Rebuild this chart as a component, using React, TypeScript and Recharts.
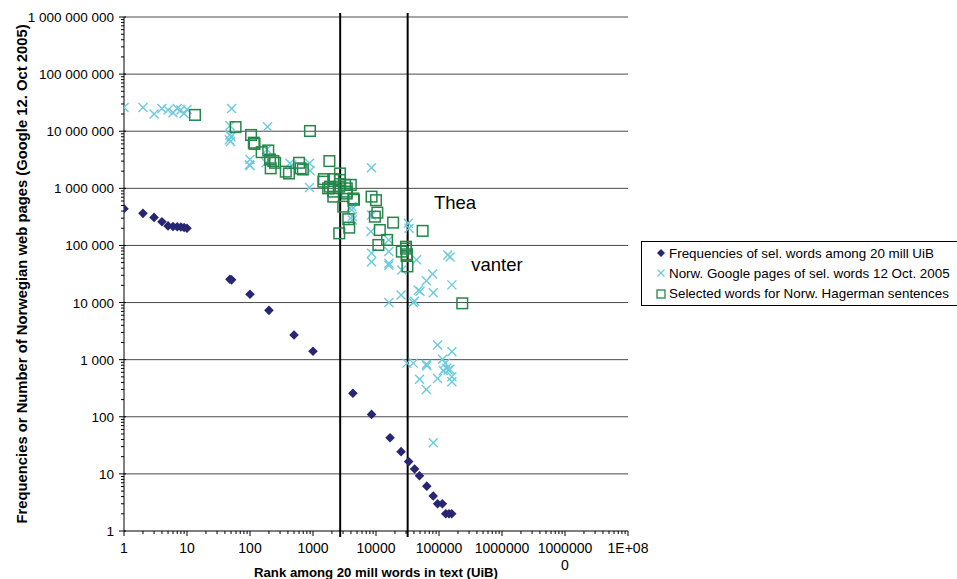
import React from "react";
import {
  ScatterChart,
  Scatter,
  XAxis,
  YAxis,
  ReferenceLine,
  ReferenceDot,
  Legend,
} from "recharts";

// Frequencies of selected words among 20 mill UiB
const freqRank = [1, 2, 3, 4, 5, 6, 7, 8, 9, 10, 48, 51, 100, 200, 500, 1000, 4300, 8500, 16700, 25000, 33000, 41000, 49000, 64000, 81000, 95000, 113000, 128000, 144000, 159000];
const freqValue = [440000, 365000, 310000, 260000, 220000, 215000, 213000, 210000, 206000, 200000, 25600, 25000, 14000, 7300, 2700, 1400, 258, 110, 43, 24.5, 16.4, 12.2, 9.3, 6.1, 4.1, 3, 3, 2, 2, 2];

// Norw. Google pages of selected words 12 Oct. 2005
const googleRank = [
  1, 2, 3, 4, 5, 6, 7, 8, 9, 10,
  51, 48, 48, 50, 47, 49,
  100, 100, 98, 190, 185, 180, 430, 460, 880, 900, 880, 8500,
  4100, 4100, 4200, 4200, 8500, 8300, 8500, 8500,
  16000, 16000, 16000, 16000, 16000, 25700, 25000, 32600, 33500,
  31000, 39000, 39000, 41000, 44000, 47000,
  79000, 63000, 50000, 81000, 138000, 150000, 160000, 95000, 160000,
  63000, 64000, 114000, 126000, 133000, 140000, 117000, 149000, 160000, 160000, 95000,
  49000, 63000, 81000,
];
const googleValue = [
  26e6, 26e6, 20e6, 25e6, 23.5e6, 21e6, 25e6, 23.5e6, 20.5e6, 24e6,
  25e6, 12.5e6, 8.6e6, 8e6, 7.1e6, 6.6e6,
  3.2e6, 2.5e6, 2.6e6, 12e6, 4.8e6, 2.8e6, 2.75e6, 2.57e6, 2.75e6, 2.04e6, 1.03e6, 2.3e6,
  480e3, 420e3, 320e3, 280e3, 340e3, 175e3, 73e3, 52e3,
  125e3, 78e3, 49e3, 45e3, 10e3, 37e3, 13.6e3, 245e3, 200e3,
  870, 870, 10e3, 10.5e3, 56e3, 16.5e3,
  31.6e3, 24e3, 15.8e3, 14.9e3, 68e3, 63e3, 20.4e3, 1800, 1380,
  830, 780, 1020, 870, 705, 660, 645, 680, 500, 410, 470,
  455, 300, 35,
];

// Selected words for Norw. Hagerman sentences
const hagermanRank = [
  13.4, 59, 104, 115, 118, 153, 195, 208, 235, 213, 250, 370, 415, 600, 635, 690, 895,
  1820, 1490, 2100, 2680, 1740, 2100, 2680, 3430, 3980, 2100, 3430, 4370, 8500, 10000,
  1460, 1860, 2100, 2610, 3230, 3430, 3020, 4470, 3630, 3760, 2610,
  10500, 9600, 18700, 11500, 10900, 15000, 25700, 29900, 30600, 31500, 55000, 234000, 30000, 31000,
];
const hagermanValue = [
  19.3e6, 11.8e6, 8.6e6, 6.3e6, 6e6, 4.3e6, 4.6e6, 3.2e6, 3e6, 2.24e6, 2.8e6, 1.96e6, 1.82e6, 2.8e6, 2.24e6, 2.14e6, 10.1e6,
  3e6, 1.45e6, 1.45e6, 1.82e6, 1e6, 1e6, 1.4e6, 1e6, 1.15e6, 716e3, 810e3, 665e3, 716e3, 620e3,
  1.31e6, 1.07e6, 876e3, 1.07e6, 1.15e6, 876e3, 478e3, 630e3, 288e3, 205e3, 163e3,
  376e3, 319e3, 251e3, 186e3, 102e3, 125e3, 78e3, 95e3, 65.6e3, 43e3, 180e3, 9.7e3, 88e3, 70e3,
];

const xDecades = [1, 10, 100, 1000, 10000, 100000, 1000000, 10000000, 100000000];
const yDecades = [1, 10, 100, 1000, 10000, 100000, 1000000, 10000000, 100000000, 1000000000];
const markerLines = [2700, 31800];

const seriesNames = [
  "Frequencies of sel. words among 20 mill UiB",
  "Norw. Google pages of sel. words 12 Oct. 2005",
  "Selected words for Norw. Hagerman sentences",
];

const NAVY = "#262673";
const CYAN = "#6ccbdc";
const GREEN = "#23874a";
const FONT = "'Liberation Sans', Arial, sans-serif";

const zip = (xs: number[], ys: number[]) => xs.map((x, i) => ({ x, y: ys[i] }));

const withMinors = (decades: number[]) => {
  const out: number[] = [];
  decades.forEach((d, i) => {
    out.push(d);
    if (i < decades.length - 1) for (let k = 2; k <= 9; k++) out.push(d * k);
  });
  return out;
};

const isDecade = (v: number) => Math.abs(Math.log10(v) - Math.round(Math.log10(v))) < 1e-9;
const spaced = (v: number) => String(Math.round(v)).replace(/\B(?=(\d{3})+(?!\d))/g, " ");

const XTick = (props: any) => {
  const { x, y, payload } = props;
  const v = payload.value;
  const major = isDecade(v);
  let lines: string[] = [];
  if (major) {
    if (v === 1e8) lines = ["1E+08"];
    else if (v === 1e7) lines = ["1000000", "0"];
    else lines = [String(v)];
  }
  return (
    <g>
      <line x1={x} x2={x} y1={y} y2={y + (major ? 5 : 3)} stroke="#000" />
      {lines.map((t, i) => (
        <text key={i} x={x} y={y + 22 + i * 17} textAnchor="middle" fontSize={14} fontFamily={FONT} fill="#000">
          {t}
        </text>
      ))}
    </g>
  );
};

const YTick = (props: any) => {
  const { x, y, payload } = props;
  const v = payload.value;
  const major = isDecade(v);
  return (
    <g>
      <line x1={x - (major ? 5 : 3)} x2={x + (major ? 2 : 0)} y1={y} y2={y} stroke="#000" />
      {major && (
        <text x={x - 10} y={y + 5} textAnchor="end" fontSize={13.5} fontFamily={FONT} fill="#000">
          {spaced(v)}
        </text>
      )}
    </g>
  );
};

const Diamond = (props: any) => {
  const { cx, cy } = props;
  const h = 4.8;
  return <polygon points={`${cx},${cy - h} ${cx + h},${cy} ${cx},${cy + h} ${cx - h},${cy}`} fill={NAVY} />;
};

const Cross = (props: any) => {
  const { cx, cy } = props;
  const h = 4.5;
  return (
    <g stroke={CYAN} strokeWidth={1.4}>
      <line x1={cx - h} y1={cy - h} x2={cx + h} y2={cy + h} />
      <line x1={cx - h} y1={cy + h} x2={cx + h} y2={cy - h} />
    </g>
  );
};

const Square = (props: any) => {
  const { cx, cy } = props;
  const h = 5.3;
  return <rect x={cx - h} y={cy - h} width={h * 2} height={h * 2} fill="none" stroke={GREEN} strokeWidth={1.5} />;
};

const legendIcons = [
  <polygon key="d" points="5,1 9,5 5,9 1,5" fill={NAVY} />,
  <g key="c" stroke={CYAN} strokeWidth={1.2}>
    <line x1={1.5} y1={1.5} x2={8.5} y2={8.5} />
    <line x1={1.5} y1={8.5} x2={8.5} y2={1.5} />
  </g>,
  <rect key="s" x={1} y={1} width={8} height={8} fill="none" stroke={GREEN} strokeWidth={1.3} />,
];

const renderLegend = () => (
  <div style={{ border: "1px solid #000", padding: "1px 0", background: "#fff", fontFamily: FONT, fontSize: 13.4 }}>
    {seriesNames.map((name, i) => (
      <div key={name} style={{ display: "flex", alignItems: "center", height: 20.3, paddingLeft: 14 }}>
        <svg width={10} height={10} style={{ marginRight: 3 }}>
          {legendIcons[i]}
        </svg>
        <span>{name}</span>
      </div>
    ))}
  </div>
);

const VLine = (p: any) => (
  <line
    x1={p.x1}
    x2={p.x2}
    y1={Math.min(p.y1, p.y2) - 4}
    y2={Math.max(p.y1, p.y2) + 6}
    stroke="#000"
    strokeWidth={2}
  />
);

export default function App() {
  return (
    <div style={{ position: "absolute", left: 0, top: 0, width: 957, height: 579, background: "#fff" }}>
      <ScatterChart width={957} height={579} margin={{ top: 17, right: 329, bottom: 0, left: 0 }}>
        <XAxis
          dataKey="x"
          type="number"
          scale="log"
          domain={[1, 1e8]}
          ticks={withMinors(xDecades)}
          interval={0}
          tickSize={0}
          tickMargin={0}
          tickLine={false}
          tick={<XTick />}
          axisLine={{ stroke: "#000" }}
          height={48}
          allowDataOverflow
          label={{
            content: () => (
              <text x={376} y={577} textAnchor="middle" fontSize={13.2} fontWeight="bold" fontFamily={FONT} fill="#000">
                Rank among 20 mill words in text (UiB)
              </text>
            ),
          }}
        />
        <YAxis
          dataKey="y"
          type="number"
          scale="log"
          domain={[1, 1e9]}
          ticks={withMinors(yDecades)}
          interval={0}
          tickSize={0}
          tickMargin={0}
          tickLine={false}
          tick={<YTick />}
          axisLine={{ stroke: "#000" }}
          width={124}
          allowDataOverflow
          label={{
            content: () => (
              <text
                x={27}
                y={274}
                transform="rotate(-90 27 274)"
                textAnchor="middle"
                fontSize={14.8}
                fontWeight="bold"
                fontFamily={FONT}
                fill="#000"
              >
                Frequencies or Number of Norwegian web pages (Google 12. Oct 2005)
              </text>
            ),
          }}
        />
        {yDecades.slice(1).map((v) => (
          <ReferenceLine key={v} y={v} stroke="#4a4a4a" strokeWidth={1} />
        ))}
        {markerLines.map((v) => (
          <ReferenceLine key={v} x={v} shape={VLine} />
        ))}
        <Scatter name={seriesNames[0]} data={zip(freqRank, freqValue)} shape={Diamond} isAnimationActive={false} />
        <Scatter name={seriesNames[1]} data={zip(googleRank, googleValue)} shape={Cross} isAnimationActive={false} />
        <Scatter name={seriesNames[2]} data={zip(hagermanRank, hagermanValue)} shape={Square} isAnimationActive={false} />
        <ReferenceDot
          x={180000}
          y={576000}
          r={0}
          fill="none"
          stroke="none"
          label={{ value: "Thea", position: "center", fontSize: 18.5, fill: "#000", fontFamily: FONT }}
        />
        <ReferenceDot
          x={830000}
          y={45600}
          r={0}
          fill="none"
          stroke="none"
          label={{ value: "vanter", position: "center", fontSize: 18.5, fill: "#000", fontFamily: FONT }}
        />
        <Legend
          layout="vertical"
          align="center"
          verticalAlign="middle"
          wrapperStyle={{ position: "absolute", left: 641, top: 241, width: 320 }}
          content={renderLegend}
        />
      </ScatterChart>
    </div>
  );
}
